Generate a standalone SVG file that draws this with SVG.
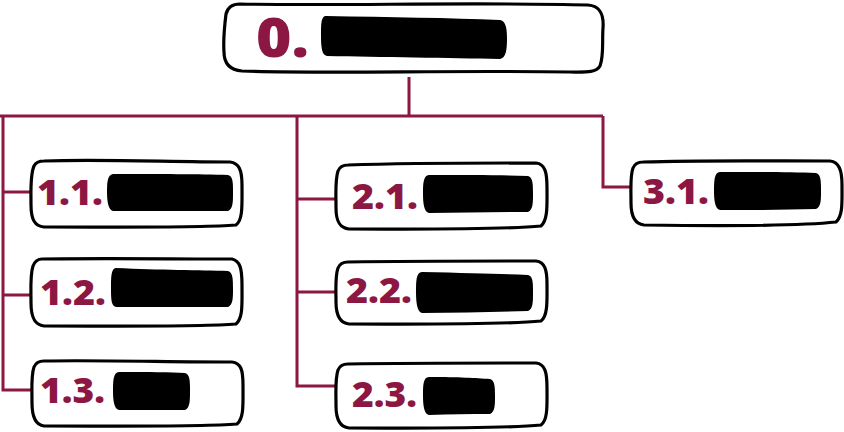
<svg xmlns="http://www.w3.org/2000/svg" width="844" height="432" viewBox="0 0 844 432">
<style>
.box{fill:#fff;stroke:#000;stroke-width:3.2;stroke-linejoin:round}
.bar{fill:#000}
.num{font-family:"Open Sans","Liberation Sans",sans-serif;font-weight:800;fill:#8C1742;font-size:35px}
.conn{fill:none;stroke:#8C1742;stroke-width:3}
</style>
<rect width="844" height="432" fill="#fff"/>
<g id="connectors" class="conn">
<path d="M409,77 V116"/>
<path d="M0,116 H603"/>
<path d="M3,116 V390 H32"/>
<path d="M3,192 H31"/>
<path d="M3,295 H31"/>
<path d="M297,116 V386 H336"/>
<path d="M297,199 H336"/>
<path d="M297,292 H336"/>
<path d="M603,116 V187 H631"/>
</g>
<g id="n0">
<path class="box" d="M240,4 C330,6 480,2 588,5 C600,6 604,14 603,28 C602,42 604,56 600,66 C596,73 585,72 570,72 C450,70 330,74 242,71 C230,70 224,64 224,52 C223,38 225,22 226,14 C228,6 234,4 240,4 Z"/>
<text class="num" x="256" y="57" style="font-size:55px" textLength="53" lengthAdjust="spacingAndGlyphs">0.</text>
<path class="bar" d="M326,16 C390,17 450,18 500,20 C505,21 507,26 507,38 C507,50 506,58 500,59 C450,58 380,57 327,56 C322,55 321,48 321,36 C321,24 321,16 326,16 Z"/>
</g>
<g id="n1_1">
<path class="box" d="M44,161 C100,159 170,162 230,162 C239,163 242,170 242,185 C242,205 243,220 236,225 C200,228 120,227 44,227 C35,226 31,220 31,205 C31,190 30,175 34,166 C36,162 40,161 44,161 Z"/>
<text class="num" x="37" y="205" textLength="66" lengthAdjust="spacingAndGlyphs">1.1.</text>
<path class="bar" d="M113,174 C160,174 200,174 228,175 C233,176 233,183 233,192 C233,202 233,209 228,211 C190,211 150,211 113,211 C108,210 107,200 107,192 C107,184 107,175 113,174 Z"/>
</g>
<g id="n1_2">
<path class="box" d="M42,259 C100,258 170,259 232,259 C240,261 242,268 242,285 C242,305 243,318 236,324 C200,327 120,326 44,326 C35,325 31,318 31,303 C31,288 30,275 33,266 C35,261 38,259 42,259 Z"/>
<text class="num" x="40" y="305" textLength="66" lengthAdjust="spacingAndGlyphs">1.2.</text>
<path class="bar" d="M116,268 C160,270 200,270 228,271 C233,272 233,280 233,289 C233,298 233,305 228,307 C190,307 150,307 116,307 C111,306 111,298 111,288 C111,278 111,268 116,268 Z"/>
</g>
<g id="n1_3">
<path class="box" d="M44,361 C100,360 170,362 232,362 C241,363 243,370 243,385 C243,405 244,418 237,424 C200,427 120,426 44,426 C36,425 32,418 32,403 C32,388 31,375 34,367 C36,362 40,361 44,361 Z"/>
<text class="num" x="40" y="403" textLength="65" lengthAdjust="spacingAndGlyphs">1.3.</text>
<path class="bar" d="M119,372 C150,372 170,372 185,373 C190,374 190,382 190,391 C190,400 190,408 185,410 C165,410 145,410 119,410 C114,409 113,400 113,391 C113,382 113,372 119,372 Z"/>
</g>
<g id="n2_1">
<path class="box" d="M348,165 C410,163 470,163 536,163 C545,164 547,172 547,188 C547,205 548,220 541,226 C500,230 420,229 349,229 C340,228 336,222 336,208 C336,192 335,180 338,171 C340,166 344,165 348,165 Z"/>
<text class="num" x="352" y="209" textLength="66" lengthAdjust="spacingAndGlyphs">2.1.</text>
<path class="bar" d="M429,175 C470,175 500,175 528,176 C533,177 533,185 533,194 C533,203 533,210 528,212 C495,212 460,213 429,213 C424,212 423,203 423,194 C423,185 423,175 429,175 Z"/>
</g>
<g id="n2_2">
<path class="box" d="M348,262 C410,261 470,261 536,261 C545,262 547,270 547,284 C547,300 548,316 541,321 C500,325 420,324 349,324 C340,323 336,316 336,302 C336,288 335,276 338,268 C340,263 344,262 348,262 Z"/>
<text class="num" x="346" y="303" textLength="66" lengthAdjust="spacingAndGlyphs">2.2.</text>
<path class="bar" d="M422,272 C470,273 500,274 528,275 C533,276 533,283 533,292 C533,302 533,309 528,311 C495,312 460,313 422,313 C417,312 416,302 416,292 C416,282 416,272 422,272 Z"/>
</g>
<g id="n2_3">
<path class="box" d="M348,364 C410,363 470,363 536,363 C545,364 547,372 547,388 C547,405 548,420 541,425 C500,429 420,428 349,428 C340,427 336,420 336,406 C336,390 335,379 338,370 C340,365 344,364 348,364 Z"/>
<text class="num" x="352" y="407" textLength="65" lengthAdjust="spacingAndGlyphs">2.3.</text>
<path class="bar" d="M429,377 C460,377 475,378 490,379 C495,380 495,388 495,396 C495,405 495,412 490,414 C470,414 450,414 429,415 C424,414 423,405 423,396 C423,386 423,377 429,377 Z"/>
</g>
<g id="n3_1">
<path class="box" d="M643,162 C700,160 770,161 830,161 C839,162 842,170 842,185 C842,202 843,216 836,222 C800,226 720,226 644,225 C635,224 631,217 631,203 C631,188 630,176 633,168 C635,163 639,162 643,162 Z"/>
<text class="num" x="643" y="204" textLength="66" lengthAdjust="spacingAndGlyphs">3.1.</text>
<path class="bar" d="M720,172 C760,172 790,172 816,173 C821,174 821,182 821,191 C821,200 821,207 816,209 C785,210 750,210 720,210 C715,209 714,200 714,191 C714,182 714,172 720,172 Z"/>
</g>
</svg>
